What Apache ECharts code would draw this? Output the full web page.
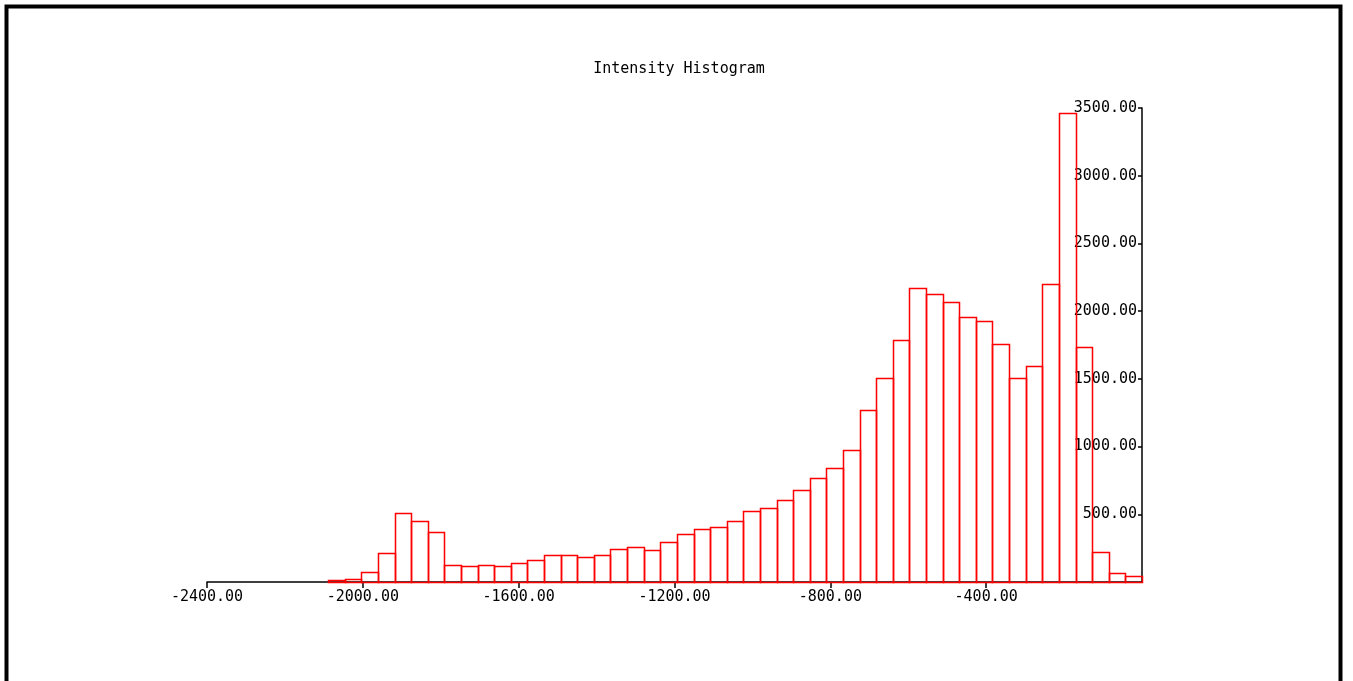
<!DOCTYPE html>
<html>
<head>
<meta charset="utf-8">
<title>Intensity Histogram</title>
<script src="https://cdn.jsdelivr.net/npm/echarts@6/dist/echarts.min.js"></script>
<style>
  html, body { margin: 0; padding: 0; background: #ffffff; }
  #chart { width: 1353px; height: 681px; }
</style>
</head>
<body>
<div id="chart"></div>
<script>
// Histogram bins: lower edge of the first bin and the common bin width
const binStart = -2089;
const binWidth = 42.63;

// Pixel counts per bin, left to right
const counts = [
  12, 24, 73, 211, 508, 447, 367, 128, 115, 125,
  115, 139, 165, 199, 199, 187, 199, 246, 258, 234,
  296, 355, 392, 404, 449, 523, 545, 607, 679, 770,
  842, 973, 1270, 1510, 1786, 2172, 2128, 2068, 1960, 1926,
  1760, 1507, 1594, 2197, 3460, 1734, 224, 70, 43
];

// Axis settings
const xTicks = [-2400, -2000, -1600, -1200, -800, -400];
const yTicks = [0, 500, 1000, 1500, 2000, 2500, 3000, 3500];

const histData = counts.map((c, i) => {
  const lo = binStart + i * binWidth;
  return [lo, lo + binWidth, c];
});

const axisFont = 'DejaVu Sans Mono';
const chart = echarts.init(document.getElementById('chart'), null, { renderer: 'canvas' });

chart.setOption({
  backgroundColor: '#ffffff',
  animation: false,
  title: {
    text: 'Intensity Histogram',
    left: 674,
    top: 57,
    textAlign: 'center',
    textStyle: { fontFamily: axisFont, fontSize: 15, fontWeight: 'normal', color: '#000' }
  },
  grid: { left: 207, right: 211, top: 108, bottom: 99 },
  xAxis: {
    type: 'value',
    min: xTicks[0],
    max: 0,
    interval: xTicks[1] - xTicks[0],
    splitLine: { show: false },
    axisLine: { show: true, onZero: false, lineStyle: { color: '#000', width: 1.5 } },
    axisTick: { show: true, length: 6, lineStyle: { color: '#000', width: 1.5 } },
    axisLabel: {
      showMaxLabel: false,
      margin: 8,
      fontFamily: axisFont, fontSize: 15, color: '#000',
      formatter: v => v.toFixed(2)
    }
  },
  yAxis: {
    type: 'value',
    position: 'right',
    min: yTicks[0],
    max: yTicks[yTicks.length - 1],
    interval: yTicks[1] - yTicks[0],
    splitLine: { show: false },
    axisLine: { show: true, lineStyle: { color: '#000', width: 1.5 } },
    axisTick: { show: true, inside: true, length: 4, lineStyle: { color: '#000', width: 1.5 } },
    axisLabel: {
      inside: true,
      showMinLabel: false,
      margin: 5,
      fontFamily: axisFont, fontSize: 15, color: '#000',
      formatter: v => v.toFixed(2)
    }
  },
  graphic: [
    {
      type: 'rect',
      z: 100,
      shape: { x: 6.5, y: 6.5, width: 1334, height: 700 },
      style: { fill: 'none', stroke: '#000', lineWidth: 4 }
    }
  ],
  series: [
    {
      type: 'custom',
      data: histData,
      encode: { x: [0, 1], y: 2 },
      z: 1,
      renderItem: function (params, api) {
        const topLeft = api.coord([api.value(0), api.value(2)]);
        const bottomRight = api.coord([api.value(1), 0]);
        const x0 = Math.round(topLeft[0]) + 0.5;
        const x1 = Math.round(bottomRight[0]) + 0.5;
        const y0 = Math.round(topLeft[1]) + 0.5;
        const y1 = Math.round(bottomRight[1]) + 0.5;
        return {
          type: 'rect',
          shape: { x: x0, y: y0, width: x1 - x0, height: y1 - y0 },
          style: { fill: 'none', stroke: '#ff0000', lineWidth: 1.5 }
        };
      }
    }
  ]
});
</script>
</body>
</html>
